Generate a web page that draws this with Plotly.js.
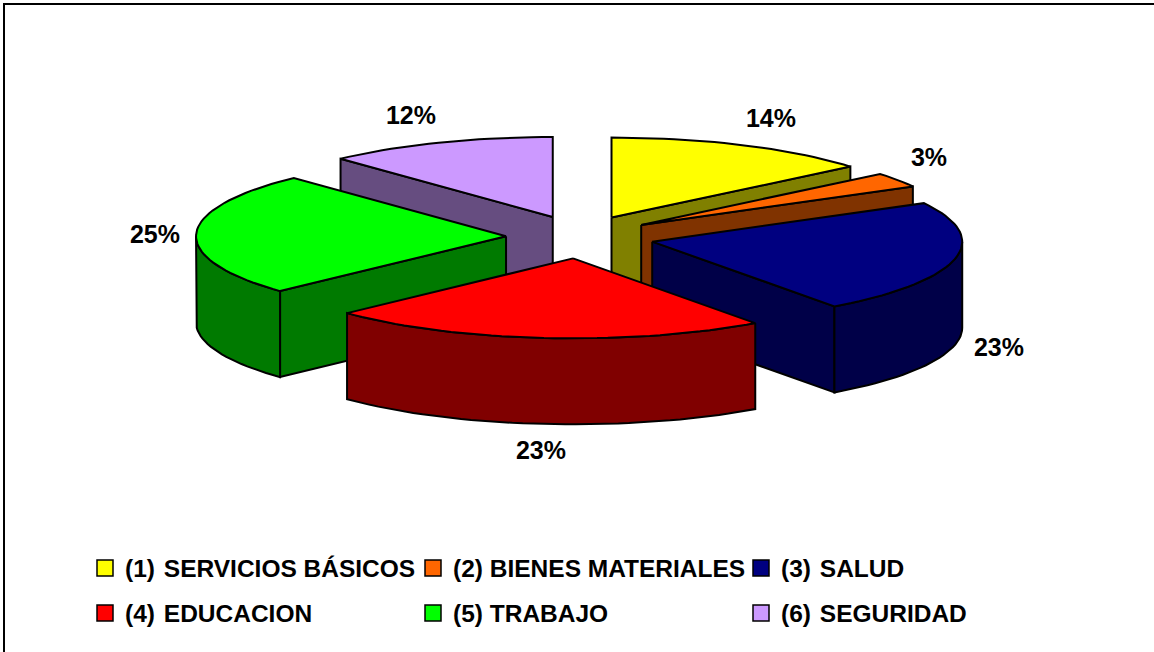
<!DOCTYPE html>
<html>
<head>
<meta charset="utf-8">
<script src="https://cdn.plot.ly/plotly-3.0.1.min.js"></script>
<style>html,body{margin:0;padding:0;background:#fff}#c{width:1154px;height:652px}</style>
</head>
<body>
<div id="c"></div>
<script>
const categories = ['(1)\u200A SERVICIOS BÁSICOS','(2) BIENES MATERIALES','(3)\u200A SALUD','(4)\u200A EDUCACION','(5) TRABAJO','(6)\u200A SEGURIDAD'];
const shares = [14,3,23,23,25,12];
const shareLabels = ['14%','3%','23%','23%','25%','12%'];
const topColors = ['#FFFF00','#FF6600','#000080','#FF0000','#00FF00','#CC99FF'];
const sideColors = ['#808000','#803300','#000048','#800000','#007A00','#664D80'];
const paintOrder = [5,0,1,2,4,3];
const labelX = [771,929,999,541,155,411];
const labelY = [121,160,350,453,237,118];
const pie = {cx:580, cy:237, rx:310, ry:80, depth:86, explode:74, tilt:0.29};

const total = shares.reduce((a,b)=>a+b,0);
const rad = d => d*Math.PI/180;
let cum = 0;
const slices = shares.map((v,i)=>{
  const a0 = cum/total*360; cum += v; const a1 = cum/total*360; const m = (a0+a1)/2;
  return {i,a0,a1,
    ax: pie.cx + pie.explode*Math.sin(rad(m)),
    ay: pie.cy - pie.explode*pie.tilt*Math.cos(rad(m))};
});
const rimPt = (s,a) => [s.ax + pie.rx*Math.sin(rad(a)), s.ay - pie.ry*Math.cos(rad(a))];
function arc(s,a0,a1){ const n=Math.max(2,Math.ceil((a1-a0)/2)); const o=[]; for(let k=0;k<=n;k++) o.push(rimPt(s,a0+(a1-a0)*k/n)); return o; }
function poly(pts,fill){
  const c = pts.concat([pts[0]]);
  return {x:c.map(p=>p[0]),y:c.map(p=>p[1]),mode:'lines',fill:'toself',fillcolor:fill,
    line:{color:'#000',width:2,shape:'linear'},hoverinfo:'skip',showlegend:false,type:'scatter'};
}
const traces = [];
paintOrder.forEach(i=>{
  const s = slices[i], side = sideColors[i], A=[s.ax,s.ay], d=pie.depth;
  const down = p=>[p[0],p[1]+d];
  const radial = a=>{const p=rimPt(s,a); return [A,p,down(p),down(A)];};
  if(Math.sin(rad(s.a0))<-1e-6) traces.push(poly(radial(s.a0),side));
  if(Math.sin(rad(s.a1))>1e-6) traces.push(poly(radial(s.a1),side));
  const r0=Math.max(s.a0,90), r1=Math.min(s.a1,270);
  if(r1>r0){const top=arc(s,r0,r1); traces.push(poly(top.concat(top.slice().reverse().map(down)),side));}
  traces.push(poly([A].concat(arc(s,s.a0,s.a1)),topColors[i]));
});
traces.push({type:'scatter',mode:'text',x:labelX,y:labelY,text:shareLabels,
  textposition:'middle center',hoverinfo:'skip',showlegend:false,
  textfont:{family:'"Liberation Sans",Arial,sans-serif',size:25,color:'#000',weight:700}});
categories.forEach((c,i)=>{
  traces.push({type:'scatter',mode:'markers',x:[null],y:[null],name:c,showlegend:true,
    legend:i<3?'legend':'legend2',hoverinfo:'skip',
    marker:{symbol:'square',size:16,color:topColors[i],line:{color:'#000',width:1.5}}});
});
const legendBase = {orientation:'h',xanchor:'left',yanchor:'middle',x:90/1154,indentation:-5,
  bgcolor:'rgba(0,0,0,0)',entrywidth:288,entrywidthmode:'pixels',traceorder:'normal',
  font:{family:'"Liberation Sans",Arial,sans-serif',size:24.5,color:'#000',weight:700}};
const layout = {
  width:1154,height:652,margin:{l:0,r:0,t:0,b:0},paper_bgcolor:'#fff',plot_bgcolor:'#fff',
  xaxis:{range:[0,1154],visible:false,fixedrange:true},
  yaxis:{range:[652,0],visible:false,fixedrange:true},
  legend:Object.assign({},legendBase,{y:1-568/652}),
  legend2:Object.assign({},legendBase,{y:1-613/652}),
  shapes:[
    {type:'line',xref:'paper',yref:'paper',x0:4/1154,x1:4/1154,y0:0,y1:1-3/652,line:{color:'#000',width:2}},
    {type:'line',xref:'paper',yref:'paper',x0:3/1154,x1:1,y0:1-4/652,y1:1-4/652,line:{color:'#000',width:2}}
  ]
};
Plotly.newPlot('c',traces,layout,{displayModeBar:false,staticPlot:true});
</script>
</body>
</html>
